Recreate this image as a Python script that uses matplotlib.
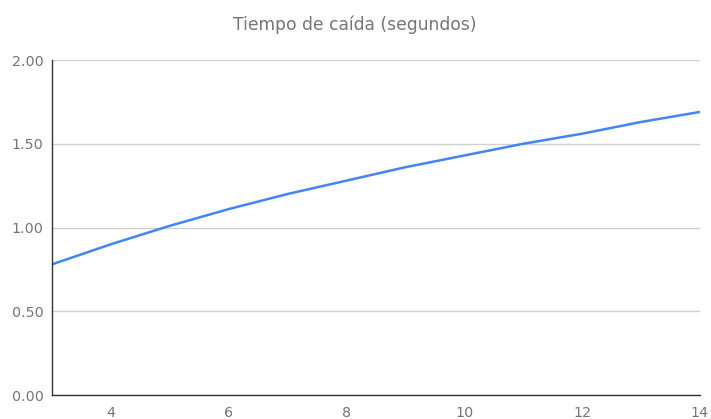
import matplotlib
matplotlib.use('Agg')
import matplotlib.pyplot as plt

# altura (m) vs tiempo de caida (s)
alturas = [3, 4, 5, 6, 7, 8, 9, 10, 11, 12, 13, 14]
tiempos = [0.78, 0.90, 1.01, 1.11, 1.20, 1.28, 1.36, 1.43, 1.50, 1.56, 1.63, 1.69]
yticks = [0.0, 0.5, 1.0, 1.5, 2.0]
xticks = [4, 6, 8, 10, 12, 14]

gray = '#757575'

fig = plt.figure(figsize=(7.11, 4.19), dpi=100)
ax = fig.add_axes([52 / 711, 24 / 419, 648 / 711, 335 / 419])

ax.plot(alturas, tiempos, color='#4285F4', linewidth=1.8, solid_capstyle='butt')

ax.set_xlim(3, 14)
ax.set_ylim(0, 2)
ax.set_xticks(xticks)
ax.set_yticks(yticks)
ax.set_yticklabels(['%.2f' % v for v in yticks])
ax.tick_params(length=0, labelsize=10.3, labelcolor=gray)
ax.tick_params(axis='y', pad=6)
ax.tick_params(axis='x', pad=8)

ax.grid(axis='y', color='#d0d0d0', linewidth=1)
ax.set_axisbelow(True)
for s in ['top', 'right']:
    ax.spines[s].set_visible(False)
for s in ['left', 'bottom']:
    ax.spines[s].set_color('#333333')
    ax.spines[s].set_linewidth(1)

fig.text(355 / 711, 1 - 25 / 419, 'Tiempo de caída (segundos)', ha='center', va='center',
         fontsize=12.3, color=gray)

fig.savefig('out.png', dpi=100)
